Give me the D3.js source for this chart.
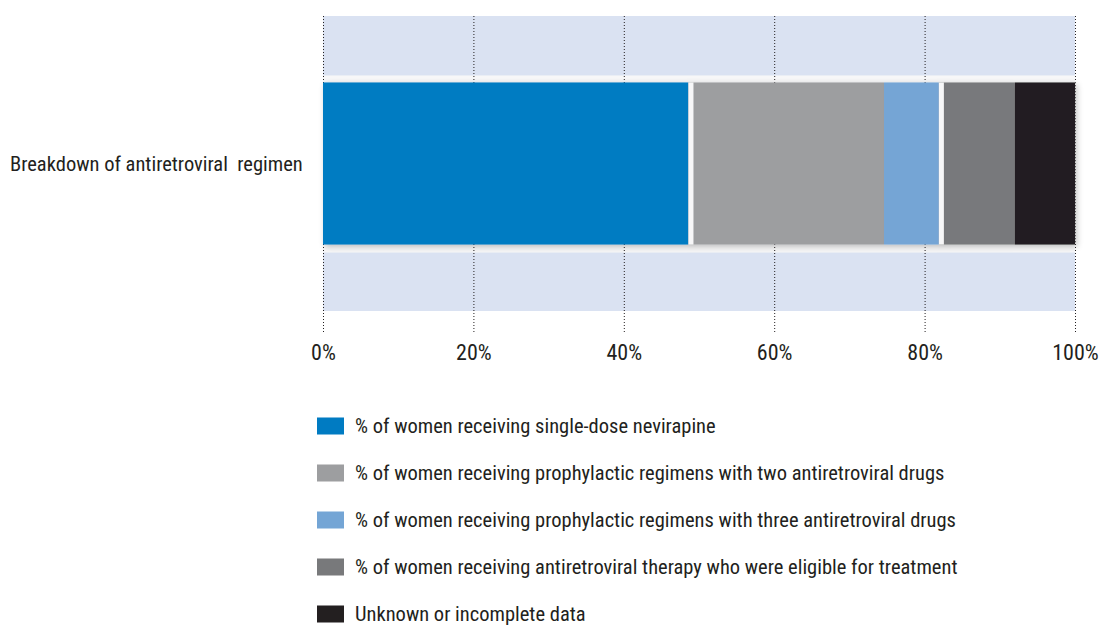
<!DOCTYPE html>
<html>
<head>
<meta charset="utf-8">
<script src="https://cdn.jsdelivr.net/npm/d3@7"></script>
<style>
  html, body { margin: 0; padding: 0; background: #fff; }
  svg text { font-family: "Roboto Condensed", "Liberation Sans Narrow", "Arial Narrow", sans-serif; fill: #231f20; }
</style>
</head>
<body>
<svg id="chart" width="1101" height="625"></svg>
<script>
// Categories and stacked shares (%)
const categories = ["Breakdown of antiretroviral  regimen"];
const seriesNames = [
  "% of women receiving single-dose nevirapine",
  "% of women receiving prophylactic regimens with two antiretroviral drugs",
  "% of women receiving prophylactic regimens with three antiretroviral drugs",
  "% of women receiving antiretroviral therapy who were eligible for treatment",
  "Unknown or incomplete data"
];
const seriesValues = [48.6, 26.0, 7.3, 10.1, 8.0];
const seriesColors = ["#007bc2", "#9d9ea0", "#74a5d5", "#78797b", "#231f20"];
const tickValues = [0, 20, 40, 60, 80, 100];
const tickLabels = ["0%", "20%", "40%", "60%", "80%", "100%"];
// Segments preceded by a white divider
const dividerBefore = [1, 3];

const FONT = '"Roboto Condensed", "Liberation Sans Narrow", "Arial Narrow", sans-serif';
const svg = d3.select("#chart");

const x = d3.scaleLinear().domain([0, 100]).range([323, 1075]);
const bandY = d3.scaleBand().domain(categories).range([16, 311]);
const barY = d3.scaleBand().domain(categories).range([16, 311]).paddingInner(0).paddingOuter(0.41);

const defs = svg.append("defs");
const shadow = defs.append("filter").attr("id", "shadow")
  .attr("x", "-5%").attr("y", "-20%").attr("width", "110%").attr("height", "140%");
shadow.append("feGaussianBlur").attr("in", "SourceAlpha").attr("stdDeviation", 3).attr("result", "b");
shadow.append("feOffset").attr("in", "b").attr("dx", 2).attr("dy", 2).attr("result", "o");
shadow.append("feComponentTransfer").attr("in", "o").attr("result", "s")
  .append("feFuncA").attr("type", "linear").attr("slope", 0.25);
const merge = shadow.append("feMerge");
merge.append("feMergeNode").attr("in", "s");
merge.append("feMergeNode").attr("in", "SourceGraphic");

// Plot background band
svg.append("rect")
  .attr("x", x(0)).attr("width", x(100) - x(0))
  .attr("y", bandY(categories[0])).attr("height", bandY.bandwidth())
  .attr("fill", "#dae2f2");

// White frame behind the bar
categories.forEach(c => {
  svg.append("rect")
    .attr("x", x(0)).attr("width", x(100) - x(0))
    .attr("y", barY(c) - 7).attr("height", barY.bandwidth() + 15)
    .attr("fill", "#f7f7f8");
});

// Gridlines (dotted)
svg.append("g")
  .selectAll("line")
  .data(tickValues)
  .join("line")
  .attr("x1", d => x(d) + 0.5).attr("x2", d => x(d) + 0.5)
  .attr("y1", 16).attr("y2", 333)
  .attr("stroke", "#231f20")
  .attr("stroke-width", 1)
  .attr("stroke-dasharray", "1,2");

// Stacked segments
const stackData = [];
let acc = 0;
seriesValues.forEach((v, i) => {
  stackData.push({ i, x0: acc, x1: acc + v });
  acc += v;
});

const barG = svg.append("g").attr("filter", "url(#shadow)");
categories.forEach(c => {
  barG.selectAll("rect.seg")
    .data(stackData)
    .join("rect")
    .attr("class", "seg")
    .attr("x", d => x(d.x0))
    .attr("width", d => x(d.x1) - x(d.x0))
    .attr("y", barY(c))
    .attr("height", barY.bandwidth())
    .attr("fill", d => seriesColors[d.i]);

  barG.selectAll("rect.div")
    .data(stackData.filter(d => dividerBefore.includes(d.i)))
    .join("rect")
    .attr("class", "div")
    .attr("x", d => x(d.x0))
    .attr("width", 5)
    .attr("y", barY(c))
    .attr("height", barY.bandwidth())
    .attr("fill", "#f7f7f8");
});

// Gridline at 100% over the bar edge
svg.append("line")
  .attr("x1", x(100) + 0.5).attr("x2", x(100) + 0.5)
  .attr("y1", barY(categories[0])).attr("y2", barY(categories[0]) + barY.bandwidth())
  .attr("stroke", "#888").attr("stroke-dasharray", "1,2");

// Category label
svg.selectAll("text.cat")
  .data(categories)
  .join("text")
  .attr("class", "cat")
  .attr("x", 10)
  .attr("y", d => bandY(d) + bandY.bandwidth() / 2)
  .attr("dy", "0.35em")
  .attr("font-size", 20.5)
  .style("white-space", "pre")
  .attr("xml:space", "preserve")
  .text(d => d);

// X axis labels
const axis = d3.axisBottom(x).tickValues(tickValues)
  .tickFormat((d, i) => tickLabels[i]).tickSize(0).tickPadding(0);
const axisG = svg.append("g").attr("transform", "translate(0,344)").call(axis);
axisG.select(".domain").remove();
axisG.selectAll("text")
  .attr("font-size", 22)
  .attr("dy", "0.71em")
  .attr("y", 0)
  .style("font-family", FONT)
  .style("fill", "#231f20");

// Legend
const legend = svg.append("g");
const rows = legend.selectAll("g")
  .data(seriesNames)
  .join("g")
  .attr("transform", (d, i) => `translate(317, ${426 + i * 47})`);
rows.append("rect")
  .attr("x", 0).attr("y", -8.5)
  .attr("width", 27).attr("height", 17)
  .attr("fill", (d, i) => seriesColors[i]);
rows.append("text")
  .attr("x", 38).attr("y", 0).attr("dy", "0.35em")
  .attr("font-size", 20.5)
  .text(d => d);
</script>
</body>
</html>
